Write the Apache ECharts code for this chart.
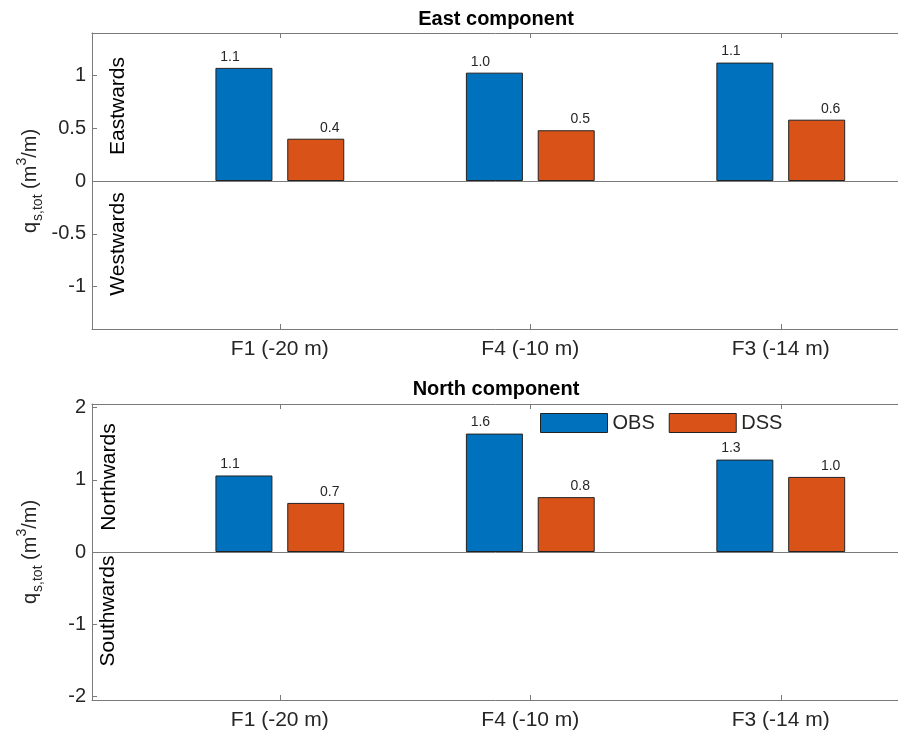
<!DOCTYPE html>
<html>
<head>
<meta charset="utf-8">
<script src="https://cdn.jsdelivr.net/npm/echarts@6/dist/echarts.min.js"></script>
<style>
  html, body { margin: 0; padding: 0; background: #fff; }
  #chart { width: 898px; height: 734px; }
</style>
</head>
<body>
<div id="chart"></div>
<script>
// sites along x (position on axis + label)
var sitePos = [1, 2, 3];
var siteNames = ['F1 (-20 m)', 'F4 (-10 m)', 'F3 (-14 m)'];

// total transport q_s,tot (m3/m)
var eastObs = [1.07, 1.025, 1.12];
var eastDss = [0.40, 0.48, 0.58];
var northObs = [1.06, 1.64, 1.28];
var northDss = [0.68, 0.76, 1.04];

var eastTicks = [-1, -0.5, 0, 0.5, 1];
var northTicks = [-2, -1, 0, 1, 2];

var FONT = 'Liberation Sans, Arial, sans-serif';
var AX = '#7a7a7a';
var TXT = '#262626';
var BLUE = '#0072BD';
var ORANGE = '#D95319';

function pts(vals) {
    return vals.map(function (v, i) { return [sitePos[i], v]; });
}

function xAxes(grid, top) {
    var base = {
        gridIndex: grid,
        type: 'value',
        min: 0.25,
        max: 3.5,
        splitLine: { show: false },
        axisLine: { show: true, onZero: false, lineStyle: { color: AX, width: 1 } },
        axisTick: { show: true, inside: true, length: 5, customValues: sitePos, lineStyle: { color: AX } }
    };
    if (top) {
        base.position = 'top';
        base.axisLabel = { show: false };
    } else {
        base.position = 'bottom';
        base.axisLabel = {
            customValues: sitePos,
            margin: 10,
            fontSize: 21,
            fontFamily: FONT,
            color: TXT,
            formatter: function (v) { return siteNames[sitePos.indexOf(v)]; }
        };
    }
    return base;
}

function yAxis(grid, lim, ticks) {
    return {
        gridIndex: grid,
        type: 'value',
        min: -lim,
        max: lim,
        splitLine: { show: false },
        axisLine: { show: true, lineStyle: { color: AX, width: 1 } },
        axisTick: { show: true, inside: true, length: 5, customValues: ticks, lineStyle: { color: AX } },
        axisLabel: { customValues: ticks, margin: 6, fontSize: 20, fontFamily: FONT, color: TXT,
            formatter: function (v) { return String(v); } },
        name: '{n|q}{sub|s,tot}{n| (m}{sup|3}{n|/m)}',
        nameLocation: 'middle',
        nameRotate: 90,
        nameGap: 47,
        nameMoveOverlap: false,
        nameTextStyle: {
            color: TXT,
            fontFamily: FONT,
            rich: {
                n: { fontSize: 20, fontFamily: FONT, color: TXT, lineHeight: 30, verticalAlign: 'middle' },
                sub: { fontSize: 14, fontFamily: FONT, color: TXT, lineHeight: 30, verticalAlign: 'bottom', padding: [0, 0, 0, 1] },
                sup: { fontSize: 14, fontFamily: FONT, color: TXT, lineHeight: 30, verticalAlign: 'top' }
            }
        }
    };
}

function barSeries(name, color, vals, xi, yi, dx, zero) {
    var s = {
        name: name,
        type: 'bar',
        xAxisIndex: xi,
        yAxisIndex: yi,
        data: pts(vals),
        barWidth: 57,
        barGap: '26%',
        itemStyle: { color: color, borderColor: '#222', borderWidth: 1 },
        label: {
            show: true,
            position: 'top',
            distance: 4,
            offset: [dx, 0],
            fontSize: 14,
            fontFamily: FONT,
            color: TXT,
            formatter: function (p) { return p.value[1].toFixed(1); }
        }
    };
    if (zero) {
        s.markLine = {
            silent: true,
            symbol: 'none',
            label: { show: false },
            lineStyle: { color: AX, type: 'solid', width: 1 },
            data: [{ yAxis: 0 }]
        };
    }
    return s;
}

function vtext(txt, x, y) {
    return {
        type: 'text',
        x: x,
        y: y,
        rotation: Math.PI / 2,
        style: { text: txt, fontSize: 21, fontFamily: FONT, fill: '#000', align: 'center', verticalAlign: 'middle' }
    };
}

function ttext(txt, y) {
    return {
        type: 'text',
        x: 496,
        y: y,
        style: { text: txt, fontSize: 20, fontWeight: 'bold', fontFamily: FONT, fill: '#000', align: 'center', verticalAlign: 'middle' }
    };
}

var option = {
    animation: false,
    backgroundColor: '#fff',
    grid: [
        { left: 92, width: 814, top: 33, height: 296, outerBoundsMode: 'none', containLabel: false },
        { left: 92, width: 814, top: 404, height: 296, outerBoundsMode: 'none', containLabel: false }
    ],
    xAxis: [xAxes(0, false), xAxes(0, true), xAxes(1, false), xAxes(1, true)],
    yAxis: [yAxis(0, 1.4, eastTicks), yAxis(1, 2.05, northTicks)],
    legend: {
        data: ['OBS', 'DSS'],
        left: 535,
        top: 408,
        itemWidth: 67,
        itemHeight: 19,
        itemGap: 14,
        icon: 'rect',
        itemStyle: { borderWidth: 1, borderColor: '#222' },
        textStyle: { fontSize: 20, fontFamily: FONT, color: TXT }
    },
    series: [
        barSeries('OBS', BLUE, eastObs, 0, 0, -14, true),
        barSeries('DSS', ORANGE, eastDss, 0, 0, 14, false),
        barSeries('OBS', BLUE, northObs, 2, 1, -14, true),
        barSeries('DSS', ORANGE, northDss, 2, 1, 14, false)
    ],
    graphic: [
        ttext('East component', 19),
        ttext('North component', 389),
        vtext('Eastwards', 118, 106),
        vtext('Westwards', 118, 244),
        vtext('Northwards', 109, 477),
        vtext('Southwards', 108, 611)
    ]
};

var myChart = echarts.init(document.getElementById('chart'));
myChart.setOption(option);
</script>
</body>
</html>
